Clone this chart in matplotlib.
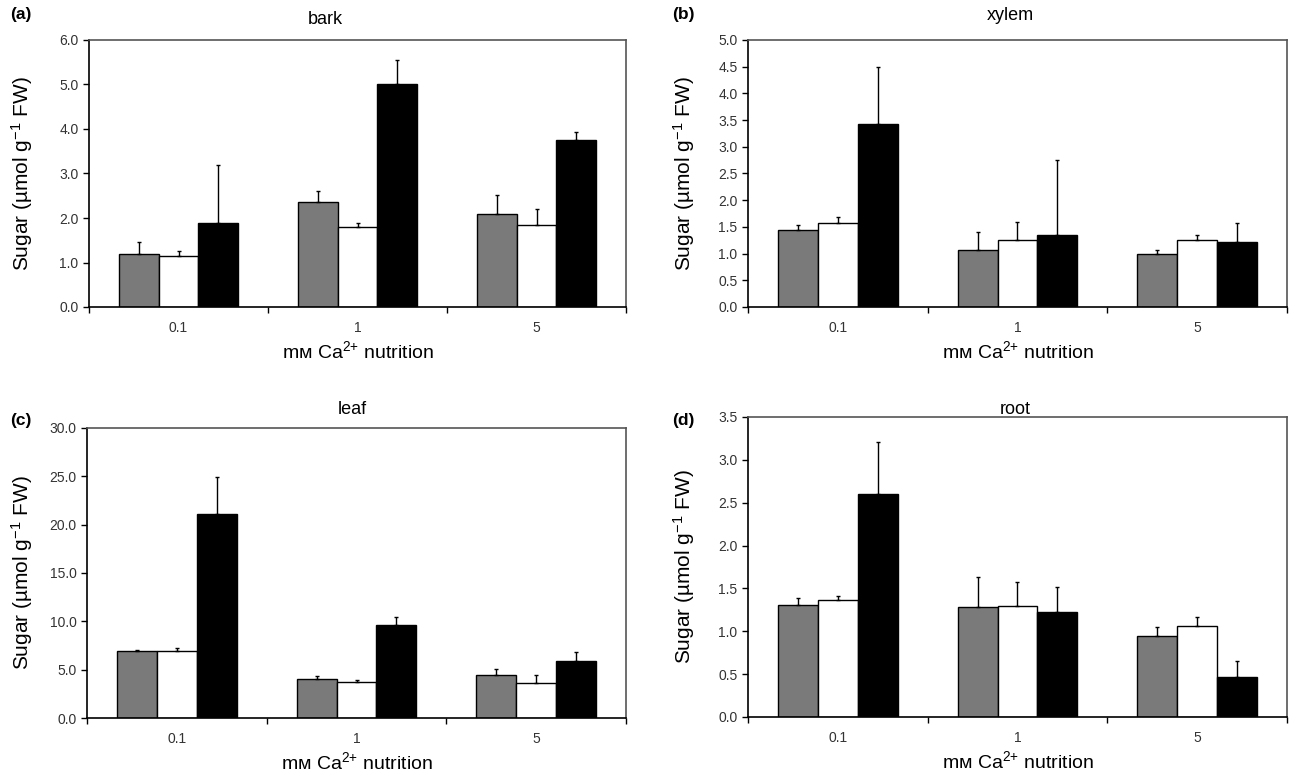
import numpy as np
import matplotlib
matplotlib.use("Agg")
import matplotlib.pyplot as plt

plt.rcParams["font.family"] = ["Liberation Sans", "DejaVu Sans"]
plt.rcParams["mathtext.fontset"] = "custom"
plt.rcParams["mathtext.rm"] = "Liberation Sans"
plt.rcParams["mathtext.it"] = "Liberation Sans:italic"

categories = ["0.1", "1", "5"]
series_colors = ["#7a7a7a", "white", "black"]

# means per series (gray, white, black) for each Ca level, and upper error
bark_mean = [[1.20, 2.35, 2.10], [1.15, 1.80, 1.85], [1.88, 5.00, 3.75]]
bark_err = [[0.27, 0.25, 0.42], [0.10, 0.08, 0.35], [1.32, 0.55, 0.18]]

xylem_mean = [[1.45, 1.07, 1.00], [1.57, 1.25, 1.25], [3.43, 1.35, 1.22]]
xylem_err = [[0.08, 0.33, 0.07], [0.11, 0.35, 0.10], [1.06, 1.41, 0.35]]

leaf_mean = [[6.9, 4.0, 4.4], [6.9, 3.7, 3.6], [21.1, 9.6, 5.9]]
leaf_err = [[0.1, 0.3, 0.7], [0.3, 0.2, 0.9], [3.8, 0.9, 0.9]]

root_mean = [[1.31, 1.28, 0.95], [1.36, 1.29, 1.06], [2.60, 1.22, 0.47]]
root_err = [[0.08, 0.35, 0.10], [0.05, 0.29, 0.11], [0.61, 0.30, 0.18]]

panels = [
    ("(a)", "bark", bark_mean, bark_err, 6.0, 1.0),
    ("(b)", "xylem", xylem_mean, xylem_err, 5.0, 0.5),
    ("(c)", "leaf", leaf_mean, leaf_err, 30.0, 5.0),
    ("(d)", "root", root_mean, root_err, 3.5, 0.5),
]

W, H = 1289, 775
fig = plt.figure(figsize=(W / 100, H / 100), dpi=100)

# axes boxes in pixels: left, top, right, bottom
boxes = [(89, 40, 626, 307), (748, 40, 1287, 307),
         (87, 428, 626, 718), (748, 417, 1287, 717)]
title_pos = [(325, 19), (1010, 16), (352, 409), (1015, 410)]
letter_pos = [(10, 14), (672, 14), (10, 420), (672, 420)]
ylab_x = [22, 684, 22, 684]

bw = 0.222
x = np.arange(len(categories))

for (letter, title, means, errs, ymax, ystep), (l, t, r, b), tp, lp, yx in zip(
        panels, boxes, title_pos, letter_pos, ylab_x):
    ax = fig.add_axes([l / W, 1 - b / H, (r - l) / W, (b - t) / H])
    for i in range(3):
        pos = x + (i - 1) * bw
        ax.bar(pos, means[i], width=bw, color=series_colors[i],
               edgecolor="black", linewidth=1.0, zorder=2)
        ax.errorbar(pos, means[i], yerr=[np.zeros(3), errs[i]], fmt="none",
                    ecolor="black", elinewidth=1.0, capsize=1.5, capthick=1.0,
                    zorder=3)
    ax.set_xlim(-0.5, 2.5)
    ax.set_ylim(0, ymax)
    ax.set_yticks(np.arange(0, ymax + ystep / 2, ystep))
    ax.yaxis.set_major_formatter(matplotlib.ticker.FormatStrFormatter("%.1f"))
    ax.set_xticks([-0.5, 0.5, 1.5, 2.5])
    ax.set_xticklabels([])
    ax.set_xticks(x, minor=True)
    ax.set_xticklabels(categories, minor=True)
    ax.tick_params(axis="x", which="minor", length=0, pad=10, labelsize=10,
                   labelcolor="#333333")
    ax.tick_params(axis="x", which="major", length=4, direction="out", width=1)
    ax.tick_params(axis="y", length=4, direction="out", width=1, labelsize=10,
                   labelcolor="#333333")
    for s in ax.spines.values():
        s.set_color("#555555")
        s.set_linewidth(1.2)
    ax.spines["left"].set_color("black")
    ax.spines["bottom"].set_color("black")
    ax.set_xlabel("mᴍ Ca$^{2{+}}$ nutrition", fontsize=14, labelpad=4)
    fig.text(yx / W, 1 - (t + b) / 2 / H, "Sugar (µmol g$^{-1}$ FW)",
             fontsize=15, rotation=90, ha="center", va="center")
    fig.text(tp[0] / W, 1 - tp[1] / H, title, fontsize=13,
             ha="center", va="center")
    fig.text(lp[0] / W, 1 - lp[1] / H, letter, fontsize=12.5,
             fontweight="bold", ha="left", va="center")

fig.savefig("out.png", dpi=100)
